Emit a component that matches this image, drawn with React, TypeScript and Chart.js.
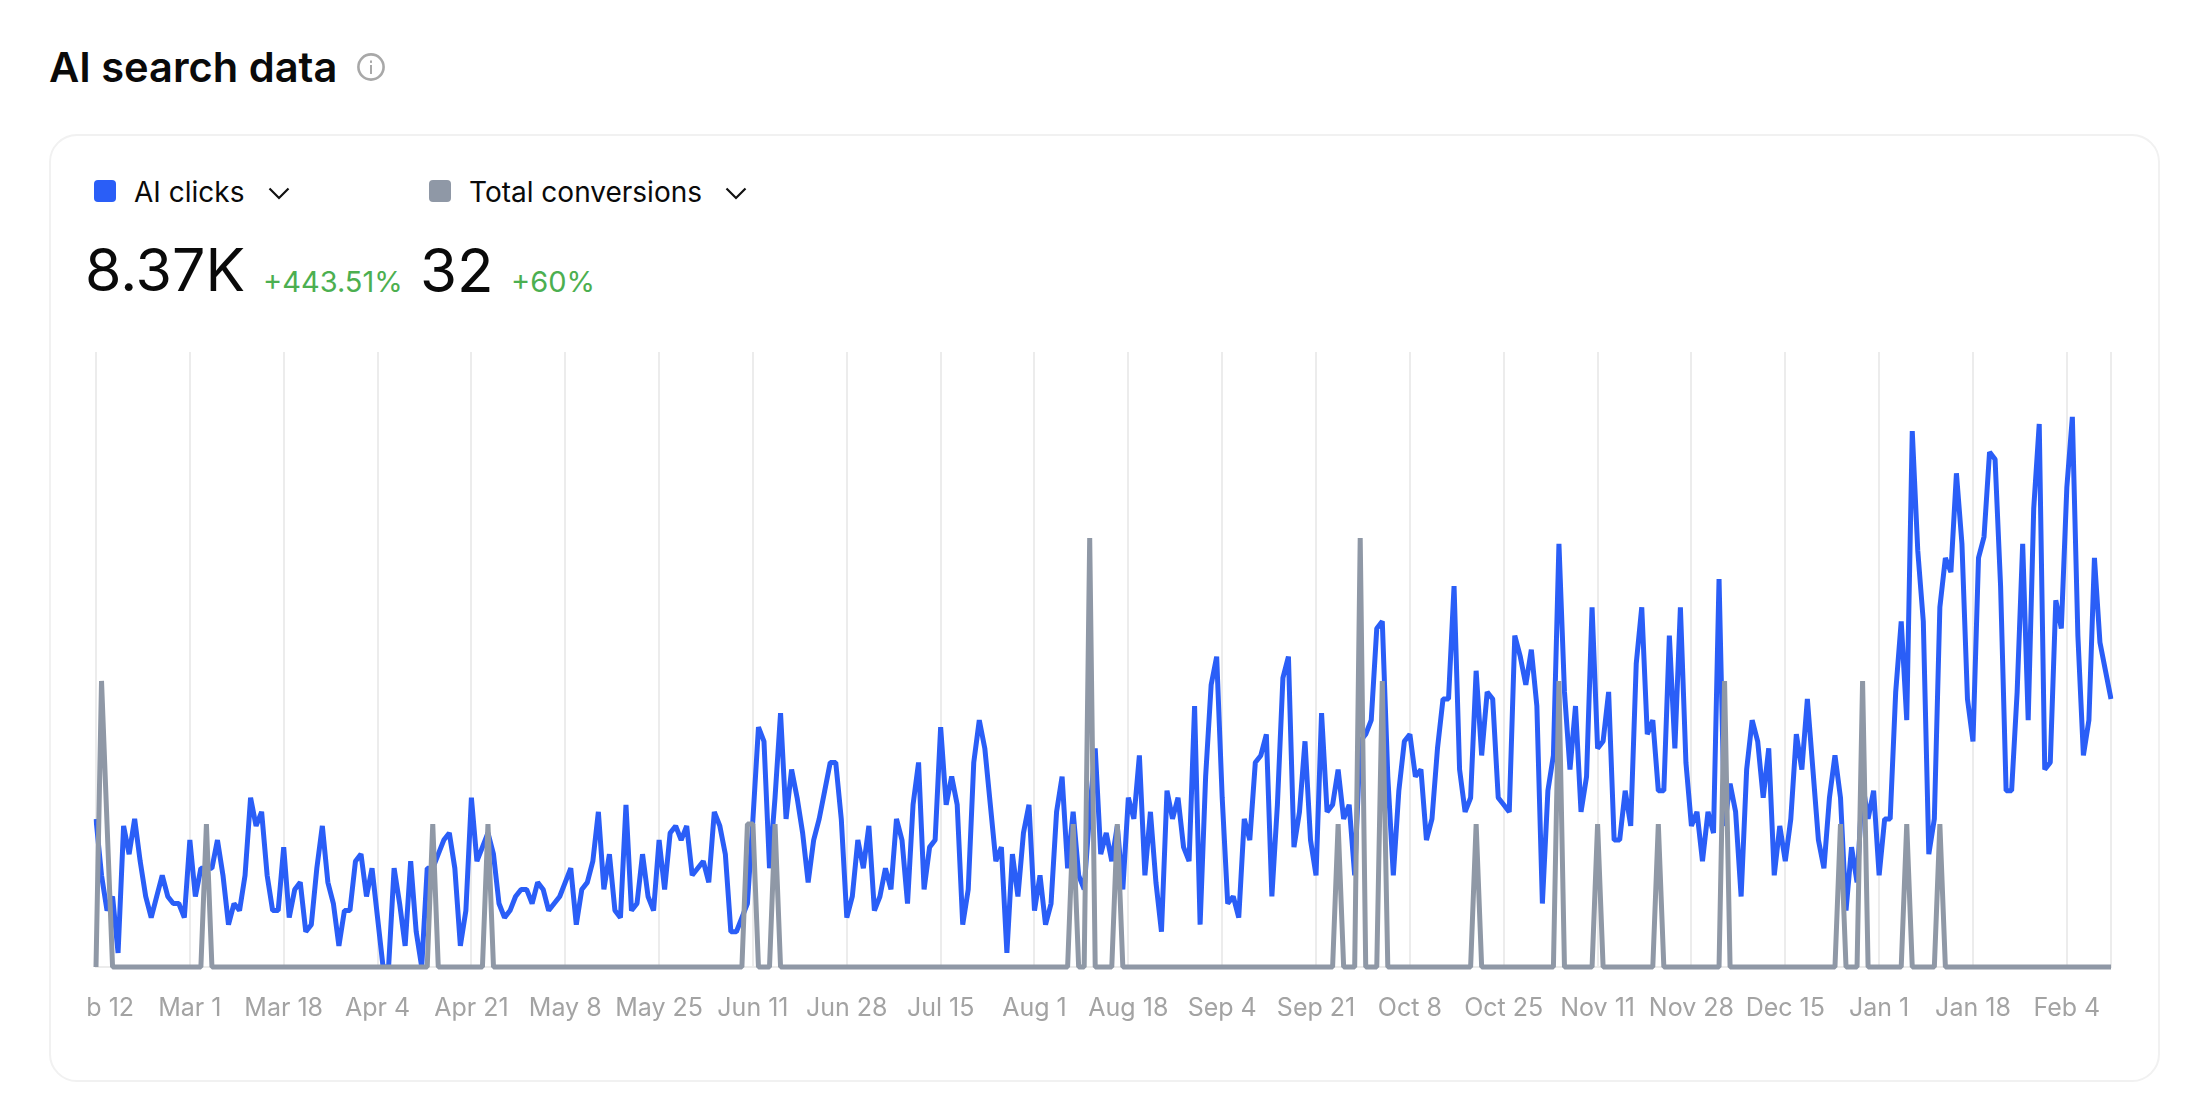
import { useEffect, useRef } from 'react';
import { Chart, registerables } from 'chart.js';

Chart.register(...registerables);

// one row per 10 days, starting Feb 12
const aiClicks = [
  21, 13, 8, 10, 2, 20, 16, 21, 15, 10,
  7, 10, 13, 10, 9, 9, 7, 18, 10, 14,
  14, 14, 18, 13, 6, 9, 8, 13, 24, 20,
  22, 13, 8, 8, 17, 7, 11, 12, 5, 6,
  14, 20, 12, 9, 3, 8, 8, 15, 16, 10,
  14, 7, 0, 0, 14, 9, 3, 15, 5, 0,
  14, 14, 16, 18, 19, 14, 3, 8, 24, 15,
  17, 19, 16, 9, 7, 8, 10, 11, 11, 9,
  12, 11, 8, 9, 10, 12, 14, 6, 11, 12,
  15, 22, 11, 16, 8, 7, 23, 8, 9, 16,
  10, 8, 18, 11, 19, 20, 18, 20, 13, 14,
  15, 12, 22, 20, 16, 5, 5, 7, 9, 21,
  34, 32, 14, 24, 36, 21, 28, 24, 19, 12,
  18, 21, 25, 29, 29, 21, 7, 10, 18, 14,
  20, 8, 10, 14, 11, 21, 18, 9, 23, 29,
  11, 17, 18, 34, 23, 27, 23, 6, 11, 29,
  35, 31, 23, 15, 17, 2, 16, 10, 19, 23,
  8, 13, 6, 9, 22, 27, 14, 22, 13, 11,
  22, 31, 16, 19, 15, 20, 11, 24, 21, 30,
  13, 22, 12, 5, 25, 21, 24, 17, 15, 37,
  6, 27, 40, 44, 24, 9, 10, 7, 21, 18,
  29, 30, 33, 10, 23, 41, 44, 17, 22, 32,
  18, 13, 36, 22, 23, 28, 21, 23, 13, 32,
  33, 35, 48, 49, 27, 13, 25, 32, 33, 27,
  28, 18, 21, 31, 38, 38, 54, 28, 22, 24,
  42, 30, 39, 38, 24, 23, 22, 47, 44, 40,
  45, 37, 9, 25, 30, 60, 39, 28, 37, 22,
  27, 51, 31, 32, 39, 18, 18, 25, 20, 43,
  51, 33, 35, 25, 25, 47, 31, 51, 29, 20,
  22, 15, 22, 19, 55, 20, 26, 22, 10, 28,
  35, 32, 24, 31, 13, 20, 15, 21, 33, 28,
  38, 28, 18, 14, 24, 30, 24, 8, 17, 12,
  26, 21, 25, 13, 21, 21, 39, 49, 35, 76,
  59, 49, 16, 21, 51, 58, 56, 70, 60, 38,
  32, 58, 61, 73, 72, 54, 25, 25, 39, 60,
  35, 65, 77, 28, 29, 52, 48, 68, 78, 47,
  30, 35, 58, 46, 42, 38,
];

const totalConversions = [
  0, 2, 1, 0, 0, 0, 0, 0, 0, 0,
  0, 0, 0, 0, 0, 0, 0, 0, 0, 0,
  1, 0, 0, 0, 0, 0, 0, 0, 0, 0,
  0, 0, 0, 0, 0, 0, 0, 0, 0, 0,
  0, 0, 0, 0, 0, 0, 0, 0, 0, 0,
  0, 0, 0, 0, 0, 0, 0, 0, 0, 0,
  0, 1, 0, 0, 0, 0, 0, 0, 0, 0,
  0, 1, 0, 0, 0, 0, 0, 0, 0, 0,
  0, 0, 0, 0, 0, 0, 0, 0, 0, 0,
  0, 0, 0, 0, 0, 0, 0, 0, 0, 0,
  0, 0, 0, 0, 0, 0, 0, 0, 0, 0,
  0, 0, 0, 0, 0, 0, 0, 0, 1, 1,
  0, 0, 0, 1, 0, 0, 0, 0, 0, 0,
  0, 0, 0, 0, 0, 0, 0, 0, 0, 0,
  0, 0, 0, 0, 0, 0, 0, 0, 0, 0,
  0, 0, 0, 0, 0, 0, 0, 0, 0, 0,
  0, 0, 0, 0, 0, 0, 0, 0, 0, 0,
  0, 0, 0, 0, 0, 0, 0, 1, 0, 0,
  3, 0, 0, 0, 0, 1, 0, 0, 0, 0,
  0, 0, 0, 0, 0, 0, 0, 0, 0, 0,
  0, 0, 0, 0, 0, 0, 0, 0, 0, 0,
  0, 0, 0, 0, 0, 0, 0, 0, 0, 0,
  0, 0, 0, 0, 0, 1, 0, 0, 0, 3,
  0, 0, 0, 2, 0, 0, 0, 0, 0, 0,
  0, 0, 0, 0, 0, 0, 0, 0, 0, 0,
  1, 0, 0, 0, 0, 0, 0, 0, 0, 0,
  0, 0, 0, 0, 0, 2, 0, 0, 0, 0,
  0, 0, 1, 0, 0, 0, 0, 0, 0, 0,
  0, 0, 0, 1, 0, 0, 0, 0, 0, 0,
  0, 0, 0, 0, 0, 2, 0, 0, 0, 0,
  0, 0, 0, 0, 0, 0, 0, 0, 0, 0,
  0, 0, 0, 0, 0, 0, 1, 0, 0, 0,
  2, 0, 0, 0, 0, 0, 0, 0, 1, 0,
  0, 0, 0, 0, 1, 0, 0, 0, 0, 0,
  0, 0, 0, 0, 0, 0, 0, 0, 0, 0,
  0, 0, 0, 0, 0, 0, 0, 0, 0, 0,
  0, 0, 0, 0, 0, 0,
];

const tickLabels = [
  'Feb 12', 'Mar 1', 'Mar 18', 'Apr 4', 'Apr 21', 'May 8', 'May 25', 'Jun 11',
  'Jun 28', 'Jul 15', 'Aug 1', 'Aug 18', 'Sep 4', 'Sep 21', 'Oct 8', 'Oct 25',
  'Nov 11', 'Nov 28', 'Dec 15', 'Jan 1', 'Jan 18', 'Feb 4',
];
const tickStep = 17;
const categories = aiClicks.map((_, i) => (i % tickStep === 0 ? tickLabels[i / tickStep] : ''));

const BLUE = '#2a5ef7';
const GRAY = '#8f98a6';
const GREEN = '#4caf50';
const FONT = 'Inter, sans-serif';

function Text({ x, y, size, color = '#0a0a0a', weight = 400, children }: any) {
  return (
    <div
      style={{
        position: 'absolute',
        left: x,
        top: y,
        fontSize: size,
        color,
        fontWeight: weight,
        lineHeight: 1,
        whiteSpace: 'nowrap',
      }}
    >
      {children}
    </div>
  );
}

function Swatch({ x, color }: { x: number; color: string }) {
  return (
    <div style={{ position: 'absolute', left: x, top: 180, width: 22, height: 22, borderRadius: 4, background: color }} />
  );
}

function Chevron({ x }: { x: number }) {
  return (
    <svg style={{ position: 'absolute', left: x, top: 187 }} width="22" height="13" viewBox="0 0 22 13">
      <path d="M1.5 1.5 L11 11 L20.5 1.5" fill="none" stroke="#111" strokeWidth="2.2" />
    </svg>
  );
}

export default function App() {
  const canvasRef = useRef<HTMLCanvasElement>(null);

  useEffect(() => {
    if (!canvasRef.current) return;
    const chart = new Chart(canvasRef.current, {
      type: 'line',
      data: {
        labels: categories,
        datasets: [
          {
            label: 'Total conversions',
            data: totalConversions,
            yAxisID: 'yConversions',
            borderColor: GRAY,
            borderWidth: 5,
            pointRadius: 0,
            tension: 0,
            order: 1,
            clip: false,
            borderJoinStyle: 'bevel',
          },
          {
            label: 'AI clicks',
            data: aiClicks,
            yAxisID: 'yClicks',
            borderColor: BLUE,
            borderWidth: 5,
            pointRadius: 0,
            tension: 0,
            order: 2,
            borderJoinStyle: 'bevel',
          },
        ],
      },
      options: {
        responsive: false,
        animation: false,
        layout: { padding: { left: 9, right: 16, top: 12, bottom: 0 } },
        plugins: { legend: { display: false }, tooltip: { enabled: false } },
        scales: {
          x: {
            afterBuildTicks: (scale: any) => {
              scale.ticks = scale.ticks.filter(
                (t: any) => t.value % tickStep === 0 || t.value === aiClicks.length - 1,
              );
            },
            afterFit: (scale: any) => {
              // let the first label run off the canvas like the original
              scale.paddingLeft = 0;
              scale.paddingRight = 0;
              scale.height = 83;
            },
            grid: { color: '#ececec', lineWidth: 2, drawTicks: false },
            border: { color: '#ececec', width: 2 },
            ticks: {
              autoSkip: false,
              maxRotation: 0,
              minRotation: 0,
              padding: 26,
              color: '#a3a3a3',
              font: { family: FONT, size: 25 },
            },
          },
          yClicks: { display: false, min: 0, max: 87.2 },
          yConversions: { display: false, min: 0, max: 4.3 },
        },
      },
    });
    return () => chart.destroy();
  }, []);

  return (
    <div style={{ position: 'relative', width: 2210, height: 1110, background: '#fff', fontFamily: FONT, overflow: 'hidden' }}>
      <style>{'body{margin:0;background:#fff}'}</style>
      <Text x={49} y={47} size={41.6} weight={600}>AI search data</Text>
      <svg style={{ position: 'absolute', left: 357, top: 53 }} width="28" height="28" viewBox="0 0 28 28">
        <circle cx="14" cy="14" r="12.6" fill="none" stroke="#a8a8a8" strokeWidth="2.6" />
        <rect x="13" y="12" width="2" height="9" fill="#a8a8a8" />
        <rect x="13" y="7.5" width="2" height="2.4" fill="#a8a8a8" />
      </svg>
      <div
        style={{
          position: 'absolute',
          left: 49,
          top: 134,
          width: 2111,
          height: 948,
          boxSizing: 'border-box',
          border: '2px solid #f1f1f1',
          borderRadius: 28,
        }}
      />
      <Swatch x={94} color={BLUE} />
      <Text x={134} y={178} size={28}>AI clicks</Text>
      <Chevron x={268} />
      <Swatch x={429} color={GRAY} />
      <Text x={469} y={178} size={28}>Total conversions</Text>
      <Chevron x={725} />
      <Text x={85} y={240} size={59}>8.37K</Text>
      <Text x={263} y={267} size={29} color={GREEN}>+443.51%</Text>
      <Text x={420} y={240} size={60}>32</Text>
      <Text x={511} y={267} size={29} color={GREEN}>+60%</Text>
      <canvas
        ref={canvasRef}
        width={2040}
        height={710}
        style={{ position: 'absolute', left: 87, top: 340, width: 2040, height: 710 }}
      />
    </div>
  );
}
